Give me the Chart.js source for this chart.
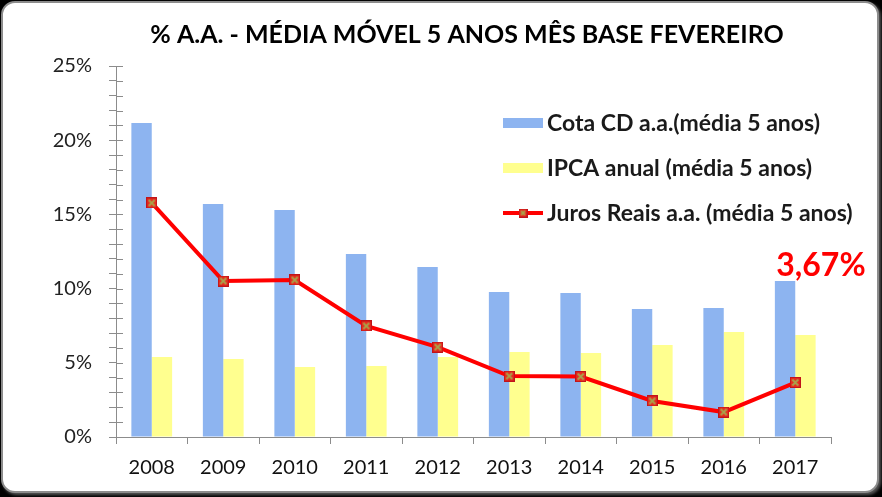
<!DOCTYPE html>
<html>
<head>
<meta charset="utf-8">
<script src="https://cdn.jsdelivr.net/npm/chart.js@4/dist/chart.umd.min.js"></script>
<style>
html,body{margin:0;padding:0;background:#000;width:882px;height:497px;overflow:hidden}
#frame{position:absolute;left:1px;top:1px;width:874px;height:488px;background:#fff;border:2px solid #8c8c8c;border-radius:14px;box-shadow:2px 2px 3px #555}
#wrap{position:absolute;left:0;top:0;width:882px;height:497px}
</style>
</head>
<body>
<div id="frame"></div>
<div id="wrap"><canvas id="c" width="882" height="497"></canvas></div>
<script>
const titleText = '% A.A. - MÉDIA MÓVEL 5 ANOS MÊS BASE FEVEREIRO';
const years = ['2008','2009','2010','2011','2012','2013','2014','2015','2016','2017'];
const cotaCD = [21.16, 15.70, 15.30, 12.33, 11.46, 9.77, 9.70, 8.63, 8.69, 10.51];
const ipca = [5.39, 5.26, 4.72, 4.78, 5.39, 5.73, 5.66, 6.20, 7.08, 6.87];
const juros = [15.77, 10.51, 10.58, 7.48, 6.06, 4.11, 4.07, 2.43, 1.68, 3.67];
const seriesNames = ['Cota CD a.a.(média 5 anos)', 'IPCA anual (média 5 anos)', 'Juros Reais a.a. (média 5 anos)'];
const lastLabel = '3,67%';

const FONT = 'Lato, "Open Sans", sans-serif';
const BLUE = '#8DB4F0';
const YELLOW = '#FFFF8F';
const RED = '#FF0000';

// marker: red square with olive X
function makeMarker(size) {
  const m = document.createElement('canvas');
  m.width = size; m.height = size;
  const g = m.getContext('2d');
  g.fillStyle = '#E82A1E';
  g.fillRect(0, 0, size, size);
  g.strokeStyle = '#C0141A';
  g.lineWidth = 1;
  g.strokeRect(0.5, 0.5, size - 1, size - 1);
  g.strokeStyle = '#A9A24A';
  g.lineWidth = 2;
  g.beginPath();
  g.moveTo(2.5, 2.5); g.lineTo(size - 2.5, size - 2.5);
  g.moveTo(size - 2.5, 2.5); g.lineTo(2.5, size - 2.5);
  g.stroke();
  return m;
}
const marker = makeMarker(11);
const legendMarker = makeMarker(9);

const crossTicks = {
  id: 'crossTicks',
  afterDatasetsDraw(chart) {
    const ctx = chart.ctx, y = chart.scales.y, a = chart.chartArea;
    ctx.save();
    ctx.strokeStyle = '#8c8c8c';
    ctx.lineWidth = 1;
    ctx.beginPath();
    y.ticks.forEach(t => {
      const py = Math.round(y.getPixelForValue(t.value)) + 0.5;
      ctx.moveTo(a.left, py); ctx.lineTo(a.left + 7, py);
    });
    ctx.stroke();
    ctx.restore();
  }
};

const customTitleLegend = {
  id: 'customTitleLegend',
  afterDraw(chart) {
    const ctx = chart.ctx;
    ctx.save();
    // title
    ctx.font = 'bold 25px ' + FONT;
    ctx.fillStyle = '#000';
    ctx.textAlign = 'center';
    ctx.textBaseline = 'middle';
    ctx.fillText(titleText, 467, 35);
    // legend
    const x0 = 503, boxW = 40;
    const ys = [123, 168, 213];
    ctx.font = 'bold 23px ' + FONT;
    ctx.textAlign = 'left';
    chart.data.datasets.forEach((ds, i) => {
      const y = ys[i];
      if (ds.type === 'line') {
        ctx.strokeStyle = ds.borderColor;
        ctx.lineWidth = 4;
        ctx.beginPath(); ctx.moveTo(x0, y); ctx.lineTo(x0 + boxW, y); ctx.stroke();
        ctx.drawImage(legendMarker, x0 + boxW / 2 - 4.5, y - 4.5);
      } else {
        ctx.fillStyle = ds.backgroundColor;
        ctx.fillRect(x0, y - 5, boxW, 10);
      }
      ctx.fillStyle = '#1a1a1a';
      ctx.fillText(ds.label, x0 + boxW + 4, y + 1);
    });
    // value annotation on last point
    const meta = chart.getDatasetMeta(2);
    const pt = meta.data[meta.data.length - 1];
    ctx.font = 'bold 32px ' + FONT;
    ctx.fillStyle = RED;
    ctx.textBaseline = 'alphabetic';
    ctx.fillText(lastLabel, pt.x - 19, pt.y - 107);
    ctx.restore();
  }
};

new Chart(document.getElementById('c'), {
  data: {
    labels: years,
    datasets: [
      { type: 'bar', label: seriesNames[0], data: cotaCD, backgroundColor: BLUE, order: 2,
        categoryPercentage: 0.57, barPercentage: 1.0 },
      { type: 'bar', label: seriesNames[1], data: ipca, backgroundColor: YELLOW, order: 2,
        categoryPercentage: 0.57, barPercentage: 1.0 },
      { type: 'line', label: seriesNames[2], data: juros, borderColor: RED, backgroundColor: RED,
        borderWidth: 4, tension: 0, pointStyle: marker, pointRadius: 6, order: 0 }
    ]
  },
  options: {
    responsive: false,
    animation: false,
    devicePixelRatio: 1,
    layout: { padding: { left: 0, right: 51, top: 66, bottom: 0 } },
    plugins: {
      legend: { display: false },
      tooltip: { enabled: false },
      title: { display: false }
    },
    scales: {
      x: {
        grid: { display: true, drawOnChartArea: false, drawTicks: true, tickLength: 7, color: '#8c8c8c', offset: true },
        border: { display: true, color: '#8c8c8c' },
        ticks: { color: '#111', font: { family: FONT, size: 20 }, padding: 12, maxRotation: 0 },
        afterFit(s) { s.height = 60; }
      },
      y: {
        min: 0, max: 25,
        grid: { display: true, drawOnChartArea: false, drawTicks: true, tickLength: 7, color: '#8c8c8c' },
        border: { display: true, color: '#8c8c8c' },
        ticks: {
          stepSize: 1, autoSkip: false, color: '#222', padding: 17,
          font: { family: FONT, size: 20 },
          callback: v => (v % 5 === 0 ? v + '%' : '')
        },
        afterFit(s) { s.width = 116; }
      }
    }
  },
  plugins: [crossTicks, customTitleLegend]
});
</script>
</body>
</html>
